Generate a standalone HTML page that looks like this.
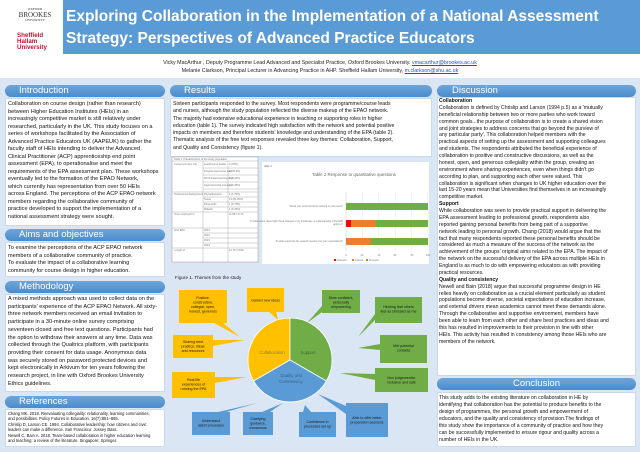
<!DOCTYPE html>
<html><head><meta charset="utf-8"><style>
*{margin:0;padding:0;box-sizing:border-box}
body{width:640px;height:452px;position:relative;overflow:hidden;background:#fff;font-family:"Liberation Sans",sans-serif;color:#111}
.a{position:absolute}
.band{left:0;top:78px;width:640px;height:374px;background:#dae6f3}
.pill{position:absolute;height:12px;border-radius:6px;background:linear-gradient(#6ea6da,#4a8bcc);color:#fff;font-size:9.5px;line-height:12px;padding-left:14px}
.box{position:absolute;background:#fff;border:1px solid #c9d9ec}
.t{position:absolute;white-space:nowrap}
.t div{white-space:nowrap}
.lc{font-size:5.6px;line-height:7.5px}
.rc{font-size:5.15px;line-height:6.87px}
.mc{font-size:5.2px;line-height:7.3px}
b{font-weight:bold}
</style></head><body>
<div class="a band"></div>
<div class="a" style="left:63px;top:0;width:577px;height:54px;background:#5b9bd5"></div>
<div class="t" style="left:66px;top:6px;color:#fff;font-weight:bold;font-size:15.5px;line-height:22px">Exploring Collaboration in the Implementation of a National Assessment<br>Strategy: Perspectives of Advanced Practice Educators</div>
<div class="t" style="left:15px;top:8px;width:40px;text-align:center;font-family:'Liberation Serif',serif;color:#333;line-height:1">
<div style="font-size:3.5px">OXFORD</div><div style="font-size:7px">BROOKES</div><div style="font-size:3.3px">UNIVERSITY</div></div>
<div class="t" style="left:17px;top:33px;color:#c4122f;font-weight:bold;font-size:6.2px;line-height:5.8px">Sheffield<br>Hallam<br>University</div>
<div class="t" style="left:0;width:640px;top:59px;text-align:center;font-size:5.3px;line-height:8px;color:#222">Vicky MacArthur , Deputy Programme Lead Advanced and Specialist Practice, Oxford Brookes University. <span style="color:#1f4fd8;text-decoration:underline">vmacarthur@brookes.ac.uk</span><br>Melanie Clarkson, Principal Lecturer in Advancing Practice in AHP. Sheffield Hallam University, <span style="color:#1f4fd8;text-decoration:underline">m.clarkson@shu.ac.uk</span></div>

<div class="pill" style="left:5px;top:85px;width:160px">Introduction</div>
<div class="box" style="left:5px;top:98px;width:160px;height:128px"></div>
<div class="t lc" style="left:8px;top:101px">
<div>Collaboration on course design (rather than research)</div><div>between Higher Education Institutes (HEIs) in an</div><div>increasingly competitive market is still relatively under</div><div>researched, particularly in the UK. This study focuses on a</div><div>series of workshops facilitated by the Association of</div><div>Advanced Practice Educators UK (AAPEUK) to gather the</div><div>faculty staff of HEIs intending to deliver the Advanced</div><div>Clinical Practitioner (ACP) apprenticeship end point</div><div>assessment (EPA),  to operationalise and meet the</div><div>requirements of the EPA assessment plan. These workshops</div><div>eventually led to the formation of the EPAO Network,</div><div>which currently has representation from over 50 HEIs</div><div>across England. The perceptions of the ACP EPAO network</div><div>members regarding the collaborative community of</div><div>practice developed to support the implementation of a</div><div>national assessment strategy were sought.</div></div>
<div class="pill" style="left:5px;top:229px;width:160px">Aims and objectives</div>
<div class="box" style="left:5px;top:242px;width:160px;height:35px"></div>
<div class="t lc" style="left:8px;top:245px">
<div>To examine the perceptions of the ACP EPAO network</div><div>members of a collaborative community of practice.</div><div>To evaluate the impact of a collaborative learning</div><div>community for course design in higher education.</div></div>
<div class="pill" style="left:5px;top:281px;width:160px">Methodology</div>
<div class="box" style="left:5px;top:294px;width:160px;height:98px"></div>
<div class="t lc" style="left:8px;top:296px;line-height:7.7px">
<div>A mixed methods approach was used to collect data on the</div><div>participants' experience of the ACP EPAO Network. All sixty-</div><div>three network members received an email invitation to</div><div>participate in a 30-minute online survey comprising</div><div>seventeen closed and free text questions. Participants had</div><div>the option to withdraw their answers at any time. Data was</div><div>collected through the Qualtrics platform, with participants</div><div>providing their consent for data usage. Anonymous data</div><div>was securely stored on password protected devices and</div><div>kept electronically in Arkivum for ten years following the</div><div>research project, in line with Oxford Brookes University</div><div>Ethics guidelines.</div></div>
<div class="pill" style="left:5px;top:396px;width:160px">References</div>
<div class="box" style="left:5px;top:409px;width:160px;height:38px"></div>
<div class="t" style="left:8px;top:411px;font-size:4.1px;line-height:5.4px">
<div>Chang MK. 2018. Reevaluating collegiality: relationality, learning communities,</div><div>and possibilities. Policy Futures in Education. 16(7):851–865.</div><div>Chrislip D, Larson CE. 1994. Collaborative leadership: how citizens and civic</div><div>leaders can make a difference. San Francisco: Jossey Bass.</div><div>Newell C, Bain A. 2018. Team-based collaboration in higher education learning</div><div>and teaching: a review of the literature. Singapore: Springer.</div></div>

<div class="pill" style="left:170px;top:85px;width:262px">Results</div>
<div class="box" style="left:170px;top:98px;width:262px;height:59px"></div>
<div class="t mc" style="left:173px;top:101px">
<div>Sixteen participants responded to the survey. Most respondents were programme/course leads</div><div>and nurses, although the study population reflected the diverse makeup of the EPAO network.</div><div>The majority had extensive educational experience in teaching or supporting roles in higher</div><div>education (table 1). The survey indicated high satisfaction with the network and potential positive</div><div>impacts on members and therefore students' knowledge and understanding of the EPA (table 2).</div><div>Thematic analysis of the free text responses revealed three key themes: Collaboration, Support,</div><div>and Quality and Consistency (figure 1).</div></div>

<svg class="a" style="left:0;top:0" width="640" height="452" viewBox="0 0 640 452">
<rect x="172" y="157" width="86" height="105" fill="#fff" stroke="#999" stroke-width="0.5"/>
<g stroke="#999" stroke-width="0.4">
<line x1="203" y1="161" x2="203" y2="262"/><line x1="228" y1="161" x2="228" y2="262"/>
<line x1="172" y1="161" x2="258" y2="161"/>
<line x1="203" y1="168" x2="258" y2="168"/><line x1="203" y1="175" x2="258" y2="175"/><line x1="203" y1="182" x2="258" y2="182"/><line x1="203" y1="189" x2="258" y2="189"/>
<line x1="172" y1="192" x2="258" y2="192"/><line x1="203" y1="197" x2="258" y2="197"/><line x1="203" y1="202" x2="258" y2="202"/><line x1="203" y1="207" x2="258" y2="207"/>
<line x1="172" y1="212" x2="258" y2="212"/><line x1="172" y1="228" x2="258" y2="228"/>
<line x1="203" y1="233" x2="258" y2="233"/><line x1="203" y1="238" x2="258" y2="238"/><line x1="203" y1="243" x2="258" y2="243"/>
<line x1="172" y1="248" x2="258" y2="248"/>
</g>
<g fill="#777" font-size="2.6" font-family="Liberation Sans">
<text x="174" y="160">Table 1 Characteristics of the study population</text>
<text x="174" y="165">Current primary role</text><text x="204" y="165">Lead/course leader</text><text x="229" y="165">4 (25%)</text>
<text x="204" y="172">Programme/course lead</text><text x="229" y="172">6 (35.3%)</text>
<text x="204" y="179">Work based learning tutor</text><text x="229" y="179">1 (6.25%)</text>
<text x="204" y="186">Apprenticeship manager</text><text x="229" y="186">1 (6.25%)</text>
<text x="174" y="195">Professional background</text><text x="204" y="195">Physiotherapist</text><text x="229" y="195">1 (6.75%)</text>
<text x="204" y="200">Nurse</text><text x="229" y="200">13 (81.25%)</text>
<text x="204" y="205">Paramedic</text><text x="229" y="205">1 (6.75%)</text>
<text x="204" y="210">Midwife</text><text x="229" y="210">1 (6.25%)</text>
<text x="174" y="215">Time employed in</text><text x="229" y="215">11.88 ± 8.74</text>
<text x="174" y="231">First EPA</text><text x="204" y="231">2021</text><text x="204" y="236">2022</text><text x="204" y="241">2023</text><text x="204" y="246">2024</text>
<text x="174" y="251">Length of</text><text x="229" y="251">12.75 ± 8.89</text>
</g>
<rect x="262" y="162" width="167" height="102" fill="#fff"/>
<text x="264" y="167" font-size="2.6" fill="#666" font-family="Liberation Sans">table 2</text>
<text x="354" y="176" font-size="4.4" fill="#666" text-anchor="middle" font-family="Liberation Sans">Table 2 Response to quantitative questions</text>
<g stroke="#ddd" stroke-width="0.4"><line x1="362.4" y1="192" x2="362.4" y2="251"/><line x1="378.8" y1="192" x2="378.8" y2="251"/><line x1="395.2" y1="192" x2="395.2" y2="251"/><line x1="411.6" y1="192" x2="411.6" y2="251"/><line x1="428" y1="192" x2="428" y2="251"/></g>
<line x1="346" y1="192" x2="346" y2="251" stroke="#bbb" stroke-width="0.4"/>
<rect x="346" y="203" width="82" height="7" fill="#70ad47"/>
<rect x="346" y="220" width="5" height="7" fill="#ff0000"/><rect x="351" y="220" width="25" height="7" fill="#ed7d31"/><rect x="376" y="220" width="52" height="7" fill="#70ad47"/>
<rect x="346" y="238" width="25" height="7" fill="#ed7d31"/><rect x="371" y="238" width="57" height="7" fill="#70ad47"/>
<g font-size="2.4" fill="#777" font-family="Liberation Sans" text-anchor="end">
<text x="343" y="207">Would you recommend the network to your peers?</text>
<text x="343" y="222">To what extent have/might these changes to my knowledge or understanding of the EPA</text><text x="343" y="225">apply to?</text>
<text x="343" y="242">To what extent has the network meeting met your expectations?</text></g>
<g font-size="2.4" fill="#777" font-family="Liberation Sans" text-anchor="middle"><text x="346" y="256">0</text><text x="362" y="256">20</text><text x="379" y="256">40</text><text x="395" y="256">60</text><text x="412" y="256">80</text><text x="428" y="256">100</text></g>
<rect x="334" y="259" width="2" height="2" fill="#f00"/><rect x="352" y="259" width="2" height="2" fill="#ed7d31"/><rect x="366" y="259" width="2" height="2" fill="#70ad47"/>
<g font-size="2.4" fill="#777" font-family="Liberation Sans"><text x="337" y="261">Detractor</text><text x="355" y="261">Passive</text><text x="369" y="261">Promoter</text></g>

<text x="175" y="279" font-size="4.6" fill="#222" font-family="Liberation Sans">Figure 1. Themes from the study</text>
<path d="M290,360 L290,318 A42,42 0 0,0 253.6,381 Z" fill="#ffc000" stroke="#fff" stroke-width="0.8"/>
<path d="M290,360 L290,318 A42,42 0 0,1 326.4,381 Z" fill="#70ad47" stroke="#fff" stroke-width="0.8"/>
<path d="M290,360 L326.4,381 A42,42 0 0,1 253.6,381 Z" fill="#5b9bd5" stroke="#fff" stroke-width="0.8"/>
<g font-size="4.3" fill="#8a7a50" font-family="Liberation Sans" text-anchor="middle">
<text x="272" y="354">Collaboration</text><text x="308" y="354" fill="#3d6a2a">Support</text>
<text x="291" y="377" fill="#3a5f8a">Quality and</text><text x="291" y="383" fill="#3a5f8a">Consistency</text></g>
<g fill="#ffc000">
<polygon points="212,322 222,322 240,337"/><rect x="179" y="290" width="48" height="33"/>
<polygon points="268,311 276,311 278,320"/><rect x="247" y="288" width="37" height="24"/>
<polygon points="213,340 213,346 245,340"/><rect x="173" y="335" width="40" height="23"/>
<polygon points="215,377 215,383 247,377"/><rect x="172" y="372" width="43" height="26"/>
</g>
<g fill="#70ad47">
<polygon points="322,306 322,312 307,323"/><rect x="322" y="290" width="38" height="23"/>
<polygon points="375,314 375,320 358,337"/><rect x="375" y="297" width="47" height="26"/>
<polygon points="380,344 380,350 358,348"/><rect x="380" y="335" width="47" height="28"/>
<polygon points="375,374 375,380 340,373"/><rect x="375" y="368" width="53" height="24"/>
</g>
<g fill="#5b9bd5">
<polygon points="218,412 226,412 257,403"/><rect x="192" y="412" width="38" height="23"/>
<polygon points="262,412 270,412 283,403"/><rect x="243" y="412" width="30" height="23"/>
<polygon points="303,412 311,412 305,405"/><rect x="299" y="412" width="37" height="25"/>
<polygon points="346,406 346,414 318,394"/><rect x="346" y="403" width="42" height="34"/>
</g>
<g font-size="3.6" fill="#1a1a1a" font-family="Liberation Sans" text-anchor="middle">
<text x="203" y="299">Positive,</text><text x="203" y="303.5">constructive,</text><text x="203" y="308">collegial, open,</text><text x="203" y="312.5">honest, generous</text>
<text x="265.5" y="301.5">Gained new ideas</text>
<text x="193" y="343">Sharing best</text><text x="193" y="347.5">practice, ideas</text><text x="193" y="352">and resources</text>
<text x="193.5" y="381">Real life</text><text x="193.5" y="385.5">experiences of</text><text x="193.5" y="390">running the EPA</text>
<text x="341" y="299">More confident,</text><text x="341" y="303.5">personally</text><text x="341" y="308">empowering</text>
<text x="398.5" y="308">Hearing that others</text><text x="398.5" y="312.5">feel as stressed as me</text>
<text x="403.5" y="347">Met potential</text><text x="403.5" y="351.5">contacts</text>
<text x="401.5" y="379">Non judgemental,</text><text x="401.5" y="383.5">inclusive and safe</text>
<text x="211" y="422">Understand</text><text x="211" y="426.5">latest processes</text>
<text x="258" y="420">Clarifying</text><text x="258" y="424.5">guidance,</text><text x="258" y="429">consensus</text>
<text x="317.5" y="423">Confidence in</text><text x="317.5" y="427.5">processes set up</text>
<text x="367" y="419">Able to offer better</text><text x="367" y="423.5">preparation sessions</text>
</g>
</svg>

<div class="pill" style="left:437px;top:85px;width:199px;padding-left:15px">Discussion</div>
<div class="box" style="left:437px;top:97px;width:199px;height:279px"></div>
<div class="t rc" style="left:439px;top:98px">
<div><b>Collaboration</b></div>
<div>Collaboration is defined by Chrislip and Larson (1994 p.5) as a 'mutually</div><div>beneficial relationship between two or more parties who work toward</div><div>common goals...the purpose of collaboration is to create a shared vision</div><div>and joint strategies to address concerns that go beyond the purview of</div><div>any particular party'. This collaboration helped members with the</div><div>practical aspects of setting up the assessment and supporting colleagues</div><div>and students. The respondents attributed the beneficial experience of</div><div>collaboration to positive and constructive discussions, as well as the</div><div>honest, open, and generous collegiality within the group, creating an</div><div>environment where sharing experiences, even when things didn't go</div><div>according to plan, and supporting each other were valued. This</div><div>collaboration is significant when changes to UK higher education over the</div><div>last 15-20 years mean that Universities find themselves in an increasingly</div><div>competitive market.</div>
<div><b>Support</b></div>
<div>While collaboration was seen to provide practical support in delivering the</div><div>EPA assessment leading to professional growth, respondents also</div><div>reported gaining personal benefits from being part of a supportive</div><div>network leading to personal growth. Chang (2018) would argue that the</div><div>fact that many respondents reported these personal benefits should be</div><div>considered as much a measure of the success of the network as the</div><div>achievement of the groups' original aims related to the EPA. The impact of</div><div>the network on the successful delivery of the EPA across multiple HEIs in</div><div>England is as much to do with empowering educators as with providing</div><div>practical resources.</div>
<div><b>Quality and consistency</b></div>
<div>Newell and Bain (2018) argue that successful programme design in HE</div><div>relies heavily on collaboration as a crucial element particularly as student</div><div>populations become diverse, societal expectations of education increase,</div><div>and external drivers mean academics cannot meet these demands alone.</div><div>Through the collaborative and supportive environment, members have</div><div>been able to learn from each other and share best practices and ideas and</div><div>this has resulted in improvements to their provision in line with other</div><div>HEIs. This activity has resulted in consistency among those HEIs who are</div><div>members of the network.</div></div>
<div class="pill" style="left:437px;top:378px;width:199px;padding-left:0;text-align:center">Conclusion</div>
<div class="box" style="left:437px;top:392px;width:199px;height:55px"></div>
<div class="t rc" style="left:439px;top:395px;line-height:7px">
<div>This study adds to the existing literature on collaboration in HE by</div><div>identifying that collaboration has the potential to produce benefits to the</div><div>design of programmes, the personal growth and empowerment of</div><div>educators, and the quality and consistency of provision.The findings of</div><div>this study show the importance of a community of practice and how they</div><div>can be successfully implemented to ensure rigour and quality across a</div><div>number of HEIs in the UK.</div></div>
</body></html>
